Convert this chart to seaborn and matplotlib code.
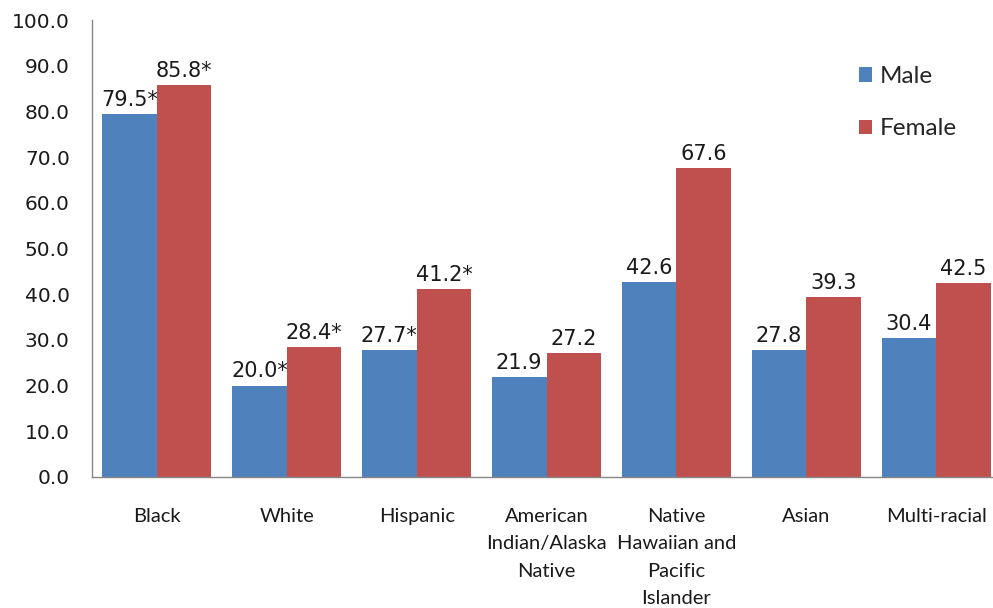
import numpy as np
import pandas as pd
import seaborn as sns
import matplotlib.pyplot as plt

# dati
categorie = ['Black', 'White', 'Hispanic', 'American\nIndian/Alaska\nNative',
             'Native\nHawaiian and\nPacific\nIslander', 'Asian', 'Multi-racial']
maschi = [79.5, 20.0, 27.7, 21.9, 42.6, 27.8, 30.4]
femmine = [85.8, 28.4, 41.2, 27.2, 67.6, 39.3, 42.5]
# asterisco = differenza significativa
maschi_sig = [True, True, True, False, False, False, False]
femmine_sig = [True, True, True, False, False, False, False]
serie = ['Male', 'Female']
colori = ['#4F81BD', '#C0504D']

df = pd.DataFrame({
    'categoria': categorie * 2,
    'sesso': ['Male'] * len(categorie) + ['Female'] * len(categorie),
    'valore': maschi + femmine,
})

sns.set_style('white')
plt.rcParams['font.family'] = ['DejaVu Sans']

fig = plt.figure(figsize=(9.93, 6.08), dpi=100)
ax = fig.add_axes([92 / 993, 131 / 608, (1001 - 92) / 993, (477 - 20) / 608])

sns.barplot(data=df, x='categoria', y='valore', hue='sesso', hue_order=serie,
            palette=colori, width=0.84, linewidth=0, saturation=1, ax=ax)

# etichette sopra le barre
for cont, vals, sig in zip(ax.containers, [maschi, femmine], [maschi_sig, femmine_sig]):
    etichette = [f'{v:.1f}' + ('*' if s else '') for v, s in zip(vals, sig)]
    ax.bar_label(cont, labels=etichette, padding=3, fontsize=15, color='#1a1a1a')

ax.set_ylim(0, 100)
ax.set_yticks(np.arange(0, 101, 10))
ax.set_yticklabels([f'{v:.1f}' for v in np.arange(0, 101, 10)], fontsize=14.5, color='#1a1a1a')
ax.set_xlim(-0.5, len(categorie) - 0.5)
ax.set_xticks(np.arange(-0.5, len(categorie), 1))
ax.set_xticklabels([])
ax.set_xticks(np.arange(len(categorie)), minor=True)
ax.set_xticklabels(categorie, minor=True, fontsize=14.5, family='Lato', color='#1a1a1a',
                   linespacing=1.75, va='top')
ax.tick_params(axis='x', which='minor', length=0, pad=22)
ax.tick_params(axis='x', which='major', length=7, width=1, color='#868686', direction='out')
ax.tick_params(axis='y', length=7, width=1, color='#868686', direction='out', pad=9)
ax.set_xlabel('')
ax.set_ylabel('')

for lato in ['top', 'right']:
    ax.spines[lato].set_visible(False)
for lato in ['left', 'bottom']:
    ax.spines[lato].set_color('#868686')
    ax.spines[lato].set_linewidth(1)

handles, labels = ax.get_legend_handles_labels()
ax.legend(handles, labels, loc='upper left', bbox_to_anchor=(837 / 993, 1 - 44 / 608),
          bbox_transform=fig.transFigure, frameon=False,
          prop={'family': 'Lato', 'size': 17.5},
          handlelength=0.55, handleheight=0.55, handletextpad=0.3, labelspacing=1.3)

fig.savefig('out.png', dpi=100)
